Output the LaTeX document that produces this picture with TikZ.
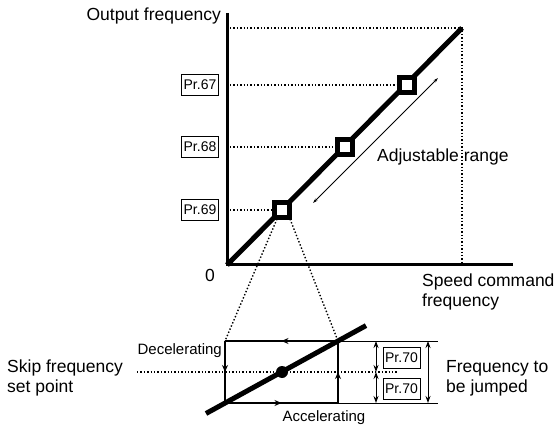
\documentclass[tikz,border=0pt]{standalone}
\usepackage{fontspec}
\setmainfont{Liberation Sans}
\usetikzlibrary{arrows.meta,decorations.markings}
\begin{document}
\begin{tikzpicture}[x=1pt,y=-1pt,
  lbl/.style={font=\fontsize{17.5}{20}\selectfont, inner sep=0pt, align=left},
  smalllbl/.style={font=\fontsize{15}{18}\selectfont, inner sep=0pt},
  prbox/.style={draw, line width=1pt, font=\fontsize{14}{15}\selectfont, minimum width=37pt, minimum height=21pt, inner sep=1pt},
  marker/.style={draw, line width=5pt, fill=white, minimum size=15pt, inner sep=0pt},
  guide/.style={dotted, line width=1.4pt},
  axisline/.style={line width=3pt},
  curve/.style={line width=5pt},
  thinline/.style={line width=0.9pt},
  dimarrow/.style={line width=1pt, {Stealth[length=7pt,width=5pt]}-{Stealth[length=7pt,width=5pt]}},
  boxedge/.style={line width=2.8pt, postaction={decorate}, decoration={markings, mark=at position 0.5 with {\arrow{Stealth[length=7pt,width=6pt]}}}}
]
\useasboundingbox (0,0) rectangle (556,435);

% axes
\coordinate (O) at (227,265);
\coordinate (ytop) at (227,13);
\coordinate (xend) at (513,265);
\coordinate (ltop) at (462,28);
\coordinate (ybtop) at (230,28);
\coordinate (xbtop) at (462,265);
\draw[axisline] (ytop) -- (O) -- (xend);
\draw[guide] (ybtop) -- (ltop) -- (xbtop);

% labels on axes
\node[lbl, anchor=east] (yl) at (221,16) {Output frequency};
\node[lbl, anchor=center] (zero) at (210,275) {0};
\node[lbl, anchor=west] (xl) at (422,292) {Speed command\\frequency};

% characteristic line
\draw[curve] (O) -- (ltop);

% Pr labels
\node[prbox] (p67) at (200,85) {Pr.67};
\node[prbox] (p68) at (200,147) {Pr.68};
\node[prbox] (p69) at (200,210) {Pr.69};
\coordinate (g67) at (230,85);
\coordinate (g68) at (230,147);
\coordinate (g69) at (230,210);

% markers
\node[marker] (s67) at (407,85) {};
\node[marker] (s68) at (345,147) {};
\node[marker] (s69) at (282,210) {};
\draw[guide] (g67) -- (s67.west);
\draw[guide] (g68) -- (s68.west);
\draw[guide] (g69) -- (s69.west);

% adjustable range
\coordinate (ar1) at (313,203);
\coordinate (ar2) at (438,78);
\draw[thinline, {Stealth[length=5pt,width=3pt]}-{Stealth[length=5pt,width=3pt]}] (ar1) -- (ar2);
\node[lbl, anchor=west] (adj) at (377,157) {Adjustable range};

% zoom box
\coordinate (bTL) at (225,341);
\coordinate (bTR) at (338,341);
\coordinate (bBR) at (338,403);
\coordinate (bBL) at (225,403);
\coordinate (zl) at (277,219);
\coordinate (zr) at (290,219);
\draw[guide] (zl) -- (bTL);
\draw[guide] (zr) -- (bTR);

\coordinate (m1) at (137,372);
\coordinate (m2) at (397,372);
\draw[guide] (m1) -- (m2);

\draw[boxedge] (bTR) -- (bTL);
\draw[boxedge] (bTL) -- (bBL);
\draw[boxedge] (bBL) -- (bBR);
\draw[boxedge] (bBR) -- (bTR);

\coordinate (c1) at (206,413.5);
\coordinate (c2) at (366,325.6);
\draw[curve] (c1) -- (c2);
\node[circle, fill, minimum size=12pt, inner sep=0pt] (dot) at (282,372) {};

% dimension lines
\coordinate (dT) at (438,341);
\coordinate (dB) at (438,403);
\draw[thinline] (bTR) -- (dT);
\draw[thinline] (bBR) -- (dB);
\coordinate (a1t) at (376,341);
\coordinate (a1m) at (376,372);
\coordinate (a1b) at (376,403);
\coordinate (a2t) at (428,341);
\coordinate (a2b) at (428,403);
\draw[dimarrow] (a1t) -- (a1m);
\draw[dimarrow] (a1m) -- (a1b);
\draw[dimarrow] (a2t) -- (a2b);

\node[prbox] (p70a) at (401.5,357.5) {Pr.70};
\node[prbox] (p70b) at (401.5,388.5) {Pr.70};

% texts
\node[lbl, anchor=west] (fj) at (446,378) {Frequency to\\be jumped};
\node[lbl, anchor=west] (sk) at (7,378) {Skip frequency\\set point};
\node[smalllbl, anchor=east] (dec) at (222,351) {Decelerating};
\node[smalllbl, anchor=center] (acc) at (324,418) {Accelerating};
\end{tikzpicture}
\end{document}
